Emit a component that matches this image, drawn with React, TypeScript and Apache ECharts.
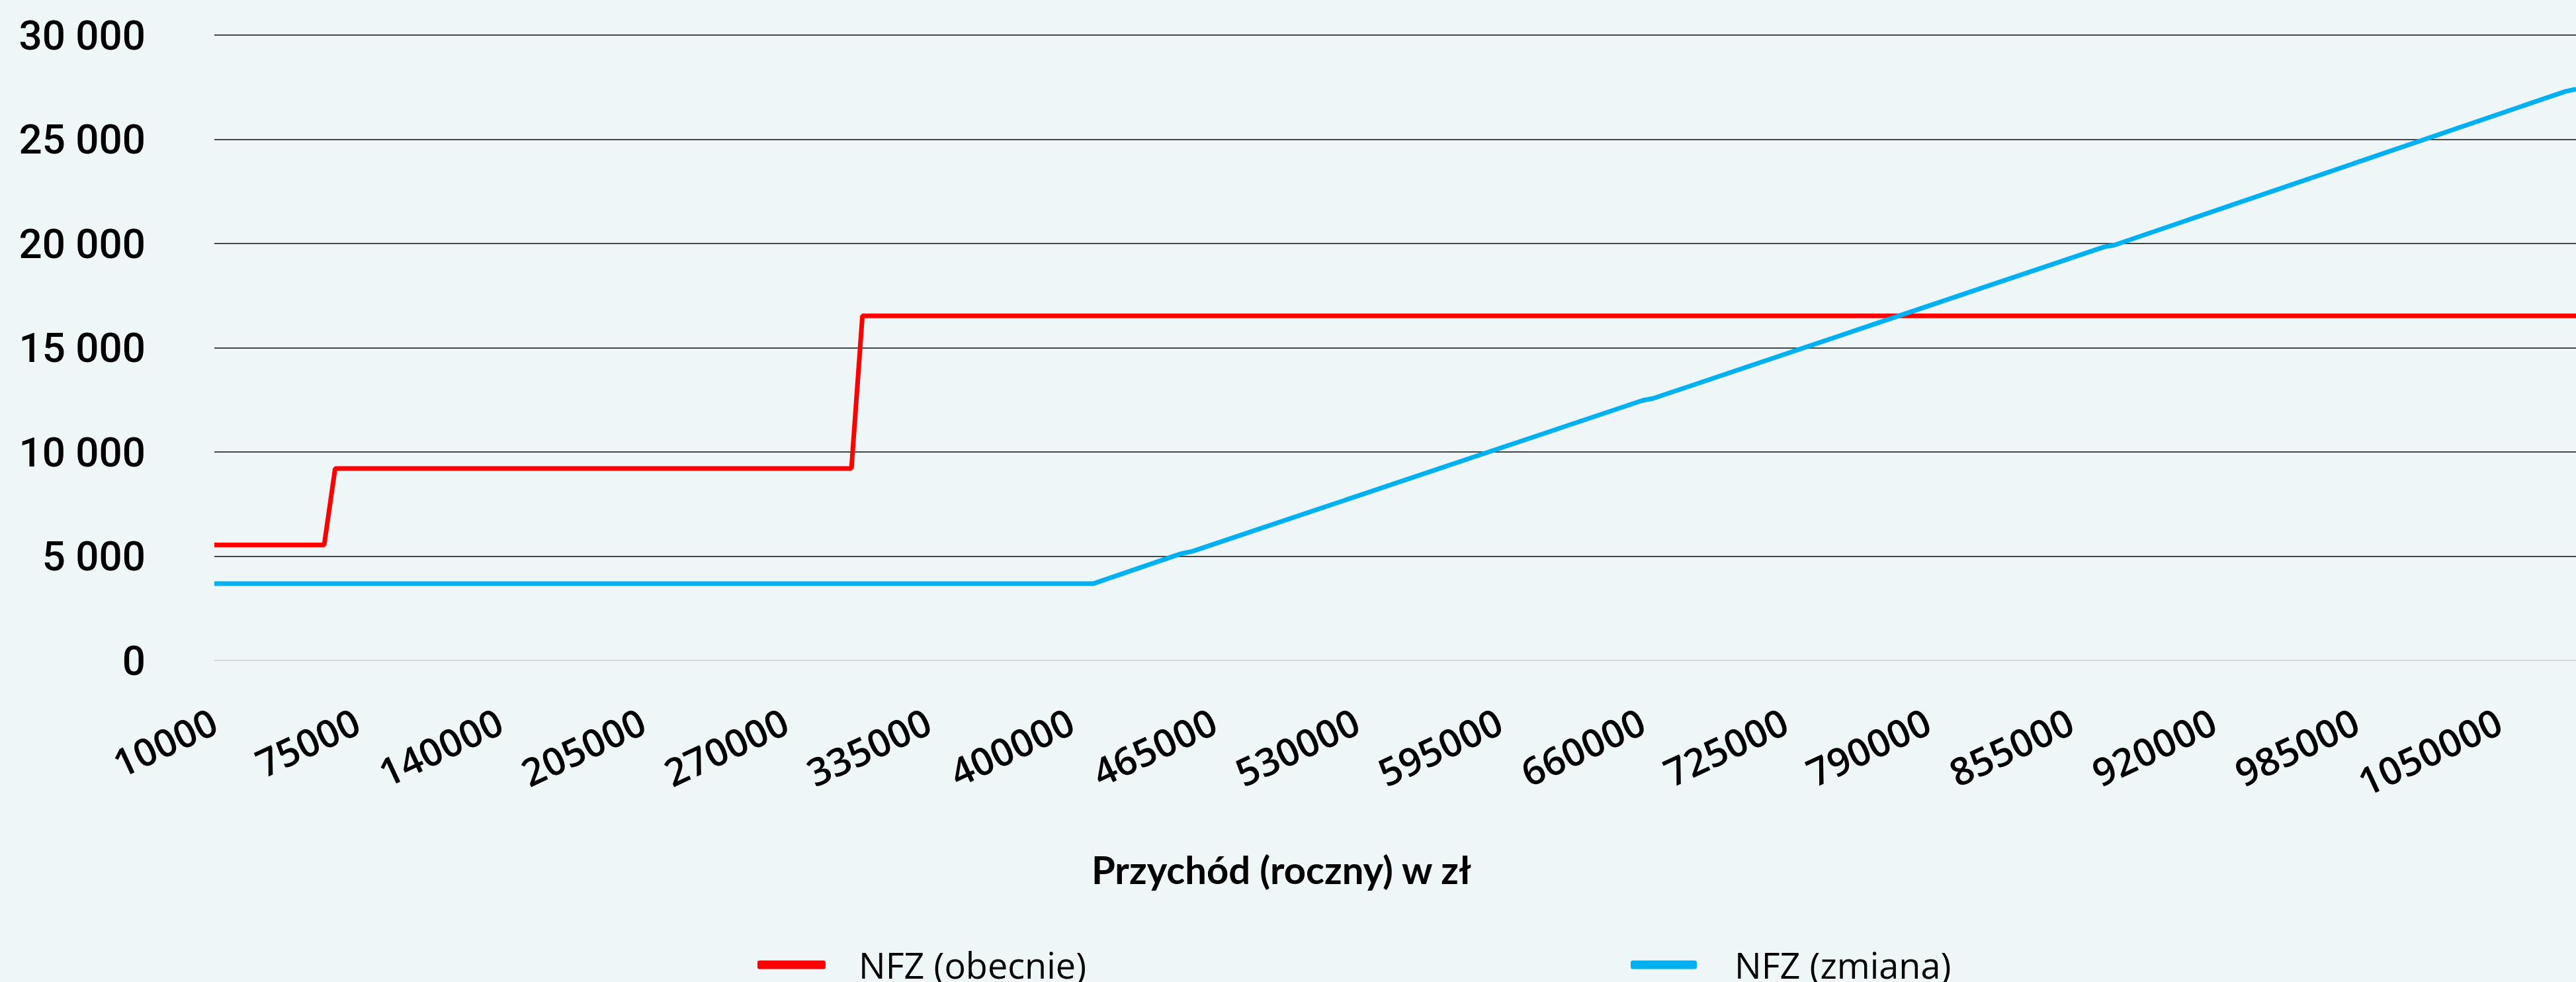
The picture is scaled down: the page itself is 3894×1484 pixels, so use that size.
import React, { useEffect, useRef } from "react";
import * as echarts from "echarts";

// Categories: annual revenue (zł), 10000 .. 1085000 step 5000
const START = 10000;
const STEP = 5000;
const COUNT = 216;
const categories: string[] = [];
for (let i = 0; i < COUNT; i++) categories.push(String(START + i * STEP));

// Key points (category, value)
const redSeries: [string, number][] = [
  ["10000", 5540],
  ["60000", 5540],
  ["65000", 9210],
  ["300000", 9210],
  ["305000", 16530],
  ["1085000", 16530],
];

const blueSeries: [string, number][] = [
  ["10000", 3680],
  ["410000", 3680],
  ["450000", 5120],
  ["455000", 5225],
  ["660000", 12470],
  ["665000", 12570],
  ["870000", 19830],
  ["875000", 19930],
  ["1080000", 27290],
  ["1085000", 27410],
];

const seriesNames = ["NFZ (obecnie)", "NFZ (zmiana)"];
const seriesColors = ["#ff0000", "#00b0f0"];
const xAxisTitle = "Przychód (roczny) w zł";

const W = 3894;
const H = 1484;

export default function App() {
  const ref = useRef<HTMLDivElement>(null);
  useEffect(() => {
    if (!ref.current) return;
    const chart = echarts.init(ref.current, null, { renderer: "svg" });
    chart.setOption({
      animation: false,
      backgroundColor: "#eff6f8",
      grid: { left: 324, right: 0, top: 53, bottom: 486, containLabel: false },
      xAxis: {
        type: "category",
        data: categories,
        boundaryGap: false,
        axisLine: { show: true, lineStyle: { color: "#d9d9d9", width: 2 } },
        axisTick: { show: false },
        splitLine: { show: false },
        axisLabel: {
          interval: 12,
          rotate: 25,
          margin: 88,
          fontFamily: "Open Sans",
          fontWeight: 600,
          fontSize: 58,
          color: "#000",
        },
      },
      yAxis: {
        type: "value",
        min: 0,
        max: 30000,
        interval: 5000,
        axisLine: { show: false },
        axisTick: { show: false },
        axisLabel: {
          margin: 104,
          fontFamily: "Roboto",
          fontWeight: 500,
          fontSize: 62,
          color: "#000",
          formatter: (v: number) =>
            String(v).replace(/\B(?=(\d{3})+(?!\d))/g, " "),
        },
        splitLine: {
          lineStyle: {
            color: ["#d9d9d9", "#0d0d0d", "#0d0d0d", "#0d0d0d", "#0d0d0d", "#0d0d0d", "#0d0d0d"],
            width: 1.6,
          },
        },
      },
      legend: [
        {
          data: [seriesNames[0]],
          left: 1140,
          top: 1426,
          icon: "roundRect",
          itemWidth: 103,
          itemHeight: 13,
          textStyle: {
            fontFamily: "Open Sans",
            fontSize: 54,
            color: "#000",
            padding: [0, 0, 0, 45],
          },
        },
        {
          data: [seriesNames[1]],
          left: 2460,
          top: 1426,
          icon: "roundRect",
          itemWidth: 100,
          itemHeight: 13,
          textStyle: {
            fontFamily: "Open Sans",
            fontSize: 54,
            color: "#000",
            padding: [0, 0, 0, 52],
          },
        },
      ],
      graphic: [
        {
          type: "text",
          x: 1937,
          y: 1313,
          style: {
            text: xAxisTitle,
            fontFamily: "Lato",
            fontWeight: "bold",
            fontSize: 58,
            fill: "#000",
            align: "center",
            verticalAlign: "middle",
          },
        },
      ],
      series: [
        {
          name: seriesNames[0],
          type: "line",
          data: redSeries,
          showSymbol: false,
          symbol: "none",
          itemStyle: { color: seriesColors[0] },
          lineStyle: { color: seriesColors[0], width: 7 },
          z: 3,
        },
        {
          name: seriesNames[1],
          type: "line",
          data: blueSeries,
          showSymbol: false,
          symbol: "none",
          itemStyle: { color: seriesColors[1] },
          lineStyle: { color: seriesColors[1], width: 7 },
          z: 4,
        },
      ],
    });
    return () => chart.dispose();
  }, []);
  return (
    <div
      ref={ref}
      style={{ position: "fixed", left: 0, top: 0, width: W, height: H }}
    />
  );
}
